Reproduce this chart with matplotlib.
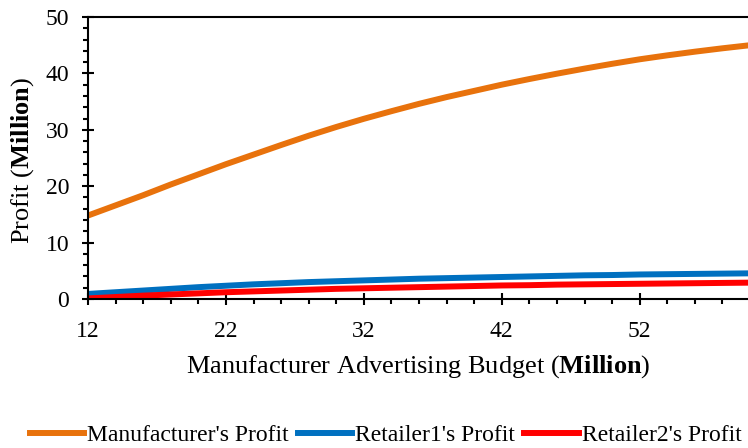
import numpy as np
import matplotlib
matplotlib.use("Agg")
import matplotlib.pyplot as plt
from matplotlib.ticker import MultipleLocator

plt.rcParams['font.family'] = ['Liberation Serif', 'DejaVu Serif']
plt.rcParams['mathtext.fontset'] = 'custom'
plt.rcParams['mathtext.rm'] = 'Liberation Serif'
plt.rcParams['mathtext.bf'] = 'Liberation Serif:bold'

# advertising budget (million)
budget = [12, 14, 16, 18, 20, 22, 24, 26, 28, 30, 32, 34, 36, 38, 40,
          42, 44, 46, 48, 50, 52, 54, 56, 58, 60]
manufacturer = [14.8, 16.6, 18.4, 20.3, 22.1, 23.9, 25.6, 27.3, 28.95, 30.5,
                31.95, 33.3, 34.6, 35.8, 36.9, 38.0, 39.0, 39.95, 40.85, 41.7,
                42.5, 43.2, 43.85, 44.45, 45.0]
retailer1 = [0.9, 1.2, 1.5, 1.8, 2.1, 2.35, 2.6, 2.8, 3.0, 3.15, 3.3, 3.45,
             3.6, 3.7, 3.8, 3.9, 4.0, 4.1, 4.2, 4.25, 4.35, 4.4, 4.45, 4.5, 4.55]
retailer2 = [0.1, 0.35, 0.6, 0.8, 1.0, 1.2, 1.35, 1.5, 1.65, 1.8, 1.9, 2.0,
             2.1, 2.2, 2.3, 2.4, 2.45, 2.55, 2.6, 2.65, 2.7, 2.75, 2.8, 2.85, 2.9]

W, H = 748, 448
fig = plt.figure(figsize=(W/100, H/100), dpi=100)
ax = fig.add_axes([88/W, 149/H, 662/W, 282/H])

tick_fs = 17
label_fs = 19
legend_fs = 17

ax.plot(budget, manufacturer, color='#E8720C', lw=4.3, label="Manufacturer's Profit")
ax.plot(budget, retailer1, color='#0070C0', lw=4.3, label="Retailer1's Profit")
ax.plot(budget, retailer2, color='#FF0000', lw=4.3, label="Retailer2's Profit")

ax.set_xlim(12, 60)
ax.set_ylim(0, 50)
ax.set_xticks([12, 22, 32, 42, 52])
ax.xaxis.set_minor_locator(MultipleLocator(2))
ax.yaxis.set_major_locator(MultipleLocator(10))
ax.yaxis.set_minor_locator(MultipleLocator(2))

ax.spines['right'].set_visible(False)
for s in ['left', 'bottom', 'top']:
    ax.spines[s].set_linewidth(1.5)
ax.tick_params(which='major', direction='inout', length=9, width=1.5,
               labelsize=tick_fs, colors='black')
ax.tick_params(which='minor', direction='out', length=3.5, width=1.5)
ax.tick_params(axis='x', which='major', pad=11)
ax.tick_params(axis='y', which='major', pad=9)

fig.text(0.5 * (88 + 748) / W, (H - 373) / H,
         r"Manufacturer Advertising Budget ($\mathbf{Million}$)",
         fontsize=label_fs, ha='center', va='baseline')
fig.text(23 / W, (H - 160) / H, r"Profit ($\mathbf{Million}$)",
         fontsize=label_fs, rotation=90, ha='center', va='center')

fig.legend(loc='center', bbox_to_anchor=(0.5 * (24 + 747) / W, (H - 435) / H),
           ncol=3, frameon=False, fontsize=legend_fs, handlelength=2.3,
           handletextpad=0.12, columnspacing=0.4, borderaxespad=0,
           borderpad=0)

fig.savefig('out.png', dpi=100)
